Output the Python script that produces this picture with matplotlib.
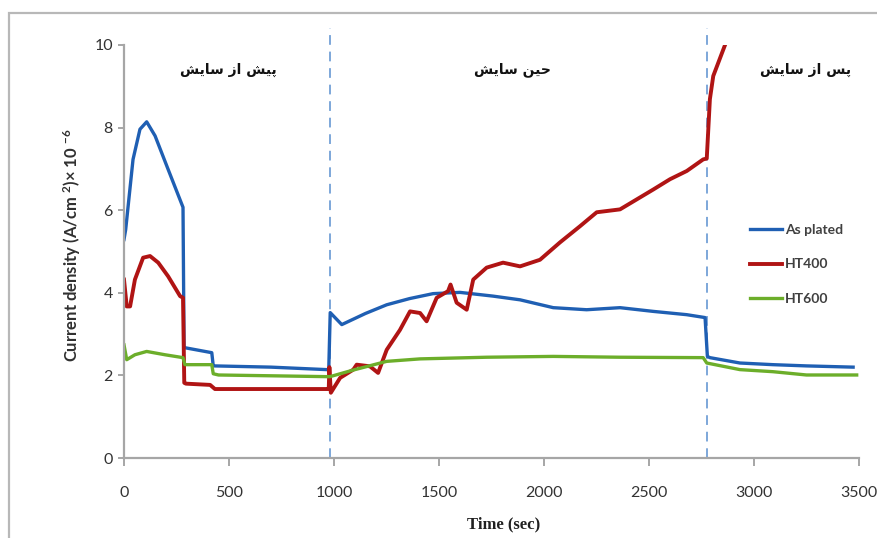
import matplotlib
matplotlib.use("Agg")
import matplotlib.pyplot as plt
from matplotlib.patches import Rectangle

# time (sec) / current density (x1e-6 A/cm2), read per test specimen
t_plated = [0, 8, 43, 76, 108, 148, 210, 281, 286, 290, 418, 425, 430, 700, 965,
            975, 982, 1037, 1150, 1251, 1360, 1472, 1600, 1757, 1886, 2044, 2203,
            2362, 2520, 2680, 2767, 2778, 2790, 2933, 3090, 3250, 3472]
j_plated = [5.29, 5.53, 7.23, 7.96, 8.14, 7.80, 6.99, 6.07, 2.67, 2.67, 2.55, 2.23,
            2.23, 2.20, 2.14, 2.14, 3.52, 3.23, 3.50, 3.71, 3.86, 3.98, 4.01, 3.92,
            3.83, 3.64, 3.59, 3.64, 3.55, 3.47, 3.40, 2.46, 2.43, 2.30, 2.26, 2.23, 2.20]

t_ht400 = [0, 13, 29, 52, 91, 124, 163, 210, 267, 281, 287, 295, 410, 433, 700, 965,
           975, 978, 985, 1029, 1092, 1108, 1171, 1210, 1251, 1314, 1362, 1410, 1441,
           1489, 1543, 1555, 1584, 1632, 1663, 1727, 1805, 1886, 1981, 2076, 2171,
           2251, 2362, 2441, 2520, 2600, 2680, 2758, 2775, 2790, 2806, 2862]
j_ht400 = [4.32, 3.67, 3.67, 4.32, 4.85, 4.89, 4.73, 4.40, 3.92, 3.88, 1.82, 1.80,
           1.77, 1.67, 1.67, 1.67, 1.67, 2.20, 1.58, 1.94, 2.14, 2.26, 2.22, 2.06,
           2.62, 3.10, 3.55, 3.51, 3.31, 3.88, 4.04, 4.20, 3.76, 3.59, 4.32, 4.61,
           4.73, 4.64, 4.80, 5.22, 5.61, 5.95, 6.02, 6.26, 6.50, 6.75, 6.95, 7.23,
           7.25, 8.69, 9.25, 10.0]

t_ht600 = [0, 13, 52, 108, 195, 281, 290, 418, 425, 450, 965, 981, 1092, 1251, 1410,
           1727, 2044, 2362, 2758, 2775, 2933, 3090, 3250, 3489]
j_ht600 = [2.74, 2.38, 2.50, 2.58, 2.50, 2.43, 2.26, 2.26, 2.04, 2.01, 1.97, 1.97,
           2.13, 2.34, 2.40, 2.44, 2.46, 2.44, 2.43, 2.30, 2.14, 2.09, 2.01, 2.01]

stage_bounds = [980, 2775]
stage_names = ["پیش از سایش", "حین سایش", "پس از سایش"]
stage_x = [228, 512, 806]  # label centres, pixels

# contextual forms: isolated, final, initial, medial
FORMS = {
    "ا": ("\uFE8D", "\uFE8E", None, None),
    "ز": ("\uFEAF", "\uFEB0", None, None),
    "س": ("\uFEB1", "\uFEB2", "\uFEB3", "\uFEB4"),
    "ش": ("\uFEB5", "\uFEB6", "\uFEB7", "\uFEB8"),
    "ی": ("\uFBFC", "\uFBFD", "\uFBFE", "\uFBFF"),
    "پ": ("\uFB56", "\uFB57", "\uFB58", "\uFB59"),
    "ح": ("\uFEA1", "\uFEA2", "\uFEA3", "\uFEA4"),
    "ن": ("\uFEE5", "\uFEE6", "\uFEE7", "\uFEE8"),
}


def shape(text):
    # join letters and reverse so the left-to-right renderer shows them right
    out = []
    for word in text.split(" "):
        glyphs = []
        for i, ch in enumerate(word):
            f = FORMS[ch]
            prev = FORMS[word[i - 1]] if i > 0 else None
            joins_prev = prev is not None and prev[2] is not None
            joins_next = i + 1 < len(word) and f[2] is not None
            if joins_prev and joins_next:
                glyphs.append(f[3])
            elif joins_prev:
                glyphs.append(f[1])
            elif joins_next:
                glyphs.append(f[2])
            else:
                glyphs.append(f[0])
        out.append("".join(glyphs))
    return " ".join(out)[::-1]


plt.rcParams["mathtext.fontset"] = "custom"
plt.rcParams["mathtext.rm"] = "Lato"
plt.rcParams["mathtext.bf"] = "Lato:bold"
plt.rcParams["mathtext.default"] = "bf"

W, H = 877, 538
fig = plt.figure(figsize=(W / 100, H / 100), dpi=100)
ax = fig.add_axes([124 / W, 1 - 458 / H, (859 - 124) / W, (458 - 45) / H])

# outer chart border, only its left and top edges are in frame
fig.patches.append(Rectangle((9 / W, -0.1), 1.2, 1 - 13 / H + 0.1,
                             transform=fig.transFigure, fill=False,
                             edgecolor="#b8b8b8", lw=1.6))

ax.plot(t_plated, j_plated, color="#1f5fb3", lw=2.4, label="As plated")
ax.plot(t_ht400, j_ht400, color="#b01414", lw=2.8, label="HT400")
ax.plot(t_ht600, j_ht600, color="#6cae2a", lw=2.4, label="HT600")

for b in stage_bounds:
    ax.plot([b, b], [0, 10.4], color="#7da7d9", lw=1.4, ls=(0, (5, 3.5)),
            clip_on=False, zorder=1)

ax.set_xlim(0, 3500)
ax.set_ylim(0, 10)
ax.set_xticks(range(0, 3501, 500))
ax.set_yticks(range(0, 11, 2))
for s in ["top", "right"]:
    ax.spines[s].set_visible(False)
for s in ["left", "bottom"]:
    ax.spines[s].set_color("#a6a6a6")
    ax.spines[s].set_linewidth(1.6)
ax.tick_params(axis="x", direction="out", length=6, width=1.4, color="#a6a6a6",
               labelsize=11.5, labelcolor="#333333", pad=14)
ax.tick_params(axis="y", direction="out", length=4, width=1.4, color="#a6a6a6",
               labelsize=11.5, labelcolor="#333333", pad=4)
for lab in ax.get_xticklabels() + ax.get_yticklabels():
    lab.set_family(["Lato", "DejaVu Sans"])

fig.text(504 / W, 1 - 524 / H, "Time (sec)", ha="center", va="center",
         family="Liberation Serif", fontweight="bold", fontsize=12, color="#202020")
fig.text(72 / W, 1 - 245 / H,
         r"Current density (A/cm $^{2}$)$\times$ 10 $^{-6}$", rotation=90,
         ha="center", va="center", family=["Lato", "DejaVu Sans"],
         fontweight="bold", fontsize=12, color="#303030")

for name, x in zip(stage_names, stage_x):
    fig.text(x / W, 1 - 70 / H, shape(name), ha="center", va="center",
             family="DejaVu Sans", fontweight="bold", fontsize=10, color="#111111")

leg = ax.legend(loc="upper left",
                bbox_to_anchor=((738 - 124) / (859 - 124), (458 - 211) / 413),
                frameon=False, handlelength=2.3, handletextpad=0.2, labelspacing=1.65,
                prop={"family": ["Lato", "DejaVu Sans"], "weight": "bold", "size": 10})
for t in leg.get_texts():
    t.set_color("#404040")

fig.savefig("out.png", dpi=100)
